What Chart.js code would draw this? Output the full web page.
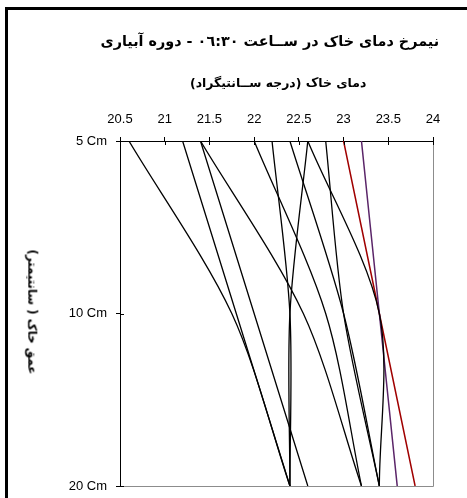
<!DOCTYPE html>
<html>
<head>
<meta charset="utf-8">
<script src="https://cdn.jsdelivr.net/npm/chart.js@4.4.1/dist/chart.umd.min.js"></script>
<style>
  html, body { margin: 0; padding: 0; background: #fff; }
  #wrap { position: relative; width: 467px; height: 498px; overflow: hidden; }
  #frame { position: absolute; left: 5px; top: 7px; width: 480px; height: 520px;
           border-left: 3px solid #000; border-top: 3px solid #000; }
  canvas { position: absolute; left: 0; top: 0; }
  .t { position: absolute; white-space: nowrap; font-family: "DejaVu Sans", sans-serif;
       font-weight: bold; color: #000; direction: rtl; line-height: 1; }
</style>
</head>
<body>
<div id="wrap">
  <div id="frame"></div>
  <canvas id="c" width="467" height="498"></canvas>
  <div class="t" id="title">نیمرخ دمای خاک در ســاعت ٠٦:٣٠ - دوره  آبیاری</div>
  <div class="t" id="xtitle">دمای خاک (درجه ســانتیگراد)</div>
  <div class="t" id="ytitle">عمق خاک ( سانتیمتر)</div>
</div>
<script>
// depth positions down the profile
const depthLabels = ['5 Cm', '10 Cm', '20 Cm'];
const depthIndex = [0, 1, 2];

// soil temperature (°C) at 5, 10 and 20 cm for each profile
const profile01 = [20.6, 21.75, 22.4];
const profile02 = [21.2, 21.8, 22.4];
const profile03 = [21.4, 22.0, 22.6];
const profile04 = [21.4, 22.55, 23.2];
const profile05 = [22.0, 22.8, 23.2];
const profile06 = [22.2, 22.4, 22.4];
const profile07 = [22.4, 23.0, 23.4];
const profile08 = [22.6, 22.4, 22.4];
const profile09 = [22.6, 23.4, 23.4];
const profile10 = [22.8, 23.0, 23.4];
const profile11 = [23.2, 23.4, 23.6];
const profile12 = [23.0, 23.4, 23.8];

const temperatureTicks = [20.5, 21, 21.5, 22, 22.5, 23, 23.5, 24];

const profiles = [
  { values: profile01, color: '#000000' },
  { values: profile02, color: '#000000' },
  { values: profile03, color: '#000000' },
  { values: profile04, color: '#000000' },
  { values: profile05, color: '#000000' },
  { values: profile06, color: '#000000' },
  { values: profile07, color: '#000000' },
  { values: profile08, color: '#000000' },
  { values: profile09, color: '#000000' },
  { values: profile10, color: '#000000' },
  { values: profile11, color: '#5a2468' },
  { values: profile12, color: '#a00000' }
];

// inward half of the tick marks plus the grey frame on the right/bottom
const axisDecor = {
  id: 'axisDecor',
  afterDatasetsDraw(chart) {
    const { ctx, chartArea: a, scales: { x, y } } = chart;
    ctx.save();
    ctx.lineWidth = 1;
    ctx.strokeStyle = '#8c8c8c';
    ctx.beginPath();
    ctx.moveTo(Math.round(a.right) + 0.5, a.top);
    ctx.lineTo(Math.round(a.right) + 0.5, Math.round(a.bottom) + 0.5);
    ctx.lineTo(a.left, Math.round(a.bottom) + 0.5);
    ctx.stroke();
    ctx.strokeStyle = '#000';
    ctx.beginPath();
    x.ticks.forEach(t => {
      const px = Math.round(x.getPixelForValue(t.value)) + 0.5;
      ctx.moveTo(px, a.top); ctx.lineTo(px, a.top + 4);
    });
    y.ticks.forEach(t => {
      const py = Math.round(y.getPixelForValue(t.value)) + 0.5;
      ctx.moveTo(a.left, py); ctx.lineTo(a.left + 4, py);
    });
    ctx.stroke();
    ctx.restore();
  }
};

const tickFont = { family: '"Liberation Sans", Arial, sans-serif', size: 13 };

new Chart(document.getElementById('c'), {
  type: 'line',
  data: {
    datasets: profiles.map(p => ({
      data: p.values.map((v, i) => ({ x: v, y: depthIndex[i] })),
      borderColor: p.color,
      borderWidth: p.color === '#000000' ? 1.3 : 1.5,
      pointRadius: 0,
      tension: 0.3,
      fill: false
    }))
  },
  options: {
    responsive: false,
    animation: false,
    layout: { padding: { left: 0, top: 0, right: 34, bottom: 12 } },
    plugins: { legend: { display: false }, tooltip: { enabled: false }, title: { display: false } },
    scales: {
      x: {
        type: 'linear',
        position: 'top',
        min: temperatureTicks[0],
        max: temperatureTicks[temperatureTicks.length - 1],
        afterBuildTicks: s => { s.ticks = temperatureTicks.map(v => ({ value: v })); },
        ticks: { font: tickFont, color: '#000', padding: 10, maxRotation: 0, callback: v => String(v) },
        grid: { drawOnChartArea: false, tickLength: 4, color: '#000' },
        border: { color: '#000', width: 1 },
        afterFit: s => { s.height = 141; s.paddingLeft = 0; s.paddingRight = 0; }
      },
      y: {
        type: 'linear',
        min: 0,
        max: 2,
        reverse: true,
        afterBuildTicks: s => { s.ticks = depthIndex.map(v => ({ value: v })); },
        ticks: { font: tickFont, color: '#000', padding: 9, callback: v => depthLabels[v] },
        grid: { drawOnChartArea: false, tickLength: 4, color: '#000' },
        border: { color: '#000', width: 1 },
        afterFit: s => { s.width = 120; s.paddingTop = 0; s.paddingBottom = 0; }
      }
    }
  },
  plugins: [axisDecor]
});

// place the titles: scale each to its span, then centre it
function place(id, size, width, cx, cy, rotate) {
  const el = document.getElementById(id);
  el.style.fontSize = size + 'px';
  const w = el.offsetWidth;
  const fs = size * width / w;
  el.style.fontSize = fs.toFixed(2) + 'px';
  const w2 = el.offsetWidth, h2 = el.offsetHeight;
  el.style.left = (cx - w2 / 2) + 'px';
  el.style.top = (cy - h2 / 2) + 'px';
  if (rotate) el.style.transform = 'rotate(' + rotate + 'deg)';
}
place('title', 16, 339, 270, 41, 0);
place('xtitle', 12, 177, 278, 83, 0);
place('ytitle', 12, 125, 31, 312, 90);
</script>
</body>
</html>
